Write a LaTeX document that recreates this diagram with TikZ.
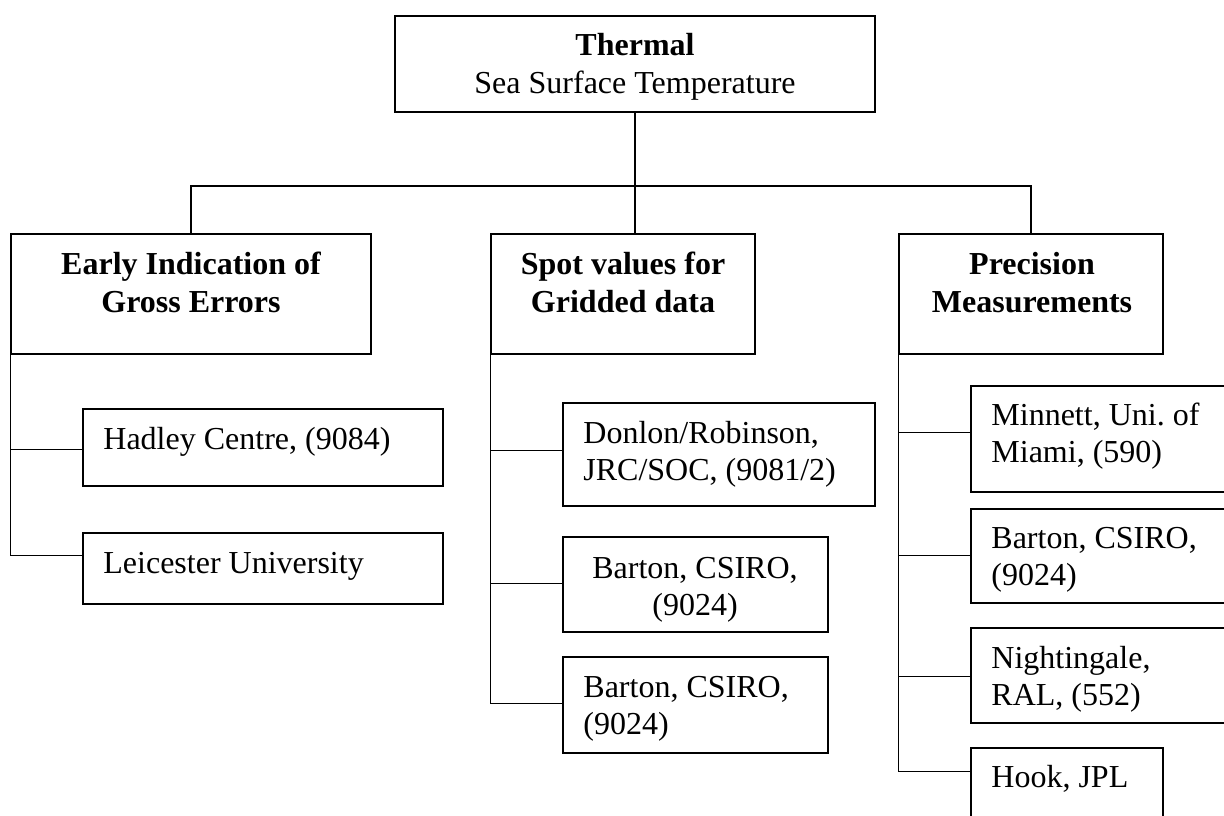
\documentclass[tikz,border=0pt]{standalone}
\usepackage{fontspec}
\setmainfont{Liberation Serif}
\usetikzlibrary{fit,calc}
\frenchspacing
\begin{document}
\begin{tikzpicture}[x=0.5pt,y=-0.5pt,
  box/.style={draw, line width=0.7pt, inner sep=0pt, rectangle},
  txt/.style={inner sep=0pt, font=\fontsize{16}{18}\selectfont},
  bt/.style={inner sep=0pt, font=\fontsize{16}{18}\selectfont\bfseries},
  conn/.style={line width=0.75pt}]
\path[use as bounding box] (0,0) rectangle (1224,815);
\clip (0,0) rectangle (1224,815);
% top
\node[box, fit={(395,16) (875,112)}] (top) {};
\node[bt, anchor=base] (topA) at (635,55) {Thermal};
\node[txt, anchor=base] (topB) at (635,93) {Sea Surface Temperature};
% headers
\node[box, fit={(11,234) (371,354)}] (L) {};
\node[bt, anchor=base] (LA) at (191,274) {Early Indication of};
\node[bt, anchor=base] (LB) at (191,312) {Gross Errors};
\node[box, fit={(491,234) (755,354)}] (M) {};
\node[bt, anchor=base] (MA) at (623,274) {Spot values for};
\node[bt, anchor=base] (MB) at (623,312) {Gridded data};
\node[box, fit={(899,234) (1163,354)}] (R) {};
\node[bt, anchor=base] (RA) at (1032,274) {Precision};
\node[bt, anchor=base] (RB) at (1032,312) {Measurements};
% left children
\node[box, fit={(83,409) (443,486)}] (had) {};
\node[txt, anchor=base west] (hadA) at (103,449) {Hadley Centre, (9084)};
\node[box, fit={(83,533) (443,604)}] (lei) {};
\node[txt, anchor=base west] (leiA) at (103,573) {Leicester University};
% middle children
\node[box, fit={(563,403) (875,506)}] (don) {};
\node[txt, anchor=base west] (donA) at (583,443) {Donlon/Robinson,};
\node[txt, anchor=base west] (donB) at (583,480) {JRC/SOC, (9081/2)};
\node[box, fit={(563,537) (828,632)}] (bm1) {};
\node[txt, anchor=base] (bm1A) at (695,578) {Barton, CSIRO,};
\node[txt, anchor=base] (bm1B) at (695,615) {(9024)};
\node[box, fit={(563,657) (828,753)}] (bm2) {};
\node[txt, anchor=base west] (bm2A) at (583,697) {Barton, CSIRO,};
\node[txt, anchor=base west] (bm2B) at (583,734) {(9024)};
% right children
\node[box, fit={(971,386) (1240,492)}] (min) {};
\node[txt, anchor=base west] (minA) at (991,425) {Minnett, Uni. of};
\node[txt, anchor=base west] (minB) at (991,462) {Miami, (590)};
\node[box, fit={(971,509) (1240,603)}] (br) {};
\node[txt, anchor=base west] (brA) at (991,548) {Barton, CSIRO,};
\node[txt, anchor=base west] (brB) at (991,585) {(9024)};
\node[box, fit={(971,628) (1240,723)}] (nig) {};
\node[txt, anchor=base west] (nigA) at (991,668) {Nightingale,};
\node[txt, anchor=base west] (nigB) at (991,705) {RAL, (552)};
\node[box, fit={(971,748) (1163,840)}] (hook) {};
\node[txt, anchor=base west] (hookA) at (991,787) {Hook, JPL};
% connectors level 1
\coordinate (bar) at (0,186);
\draw[conn] (top.south) -- (top.south |- bar);
\draw[conn] (L.north) -- (L.north |- bar) -| (R.north);
\draw[conn] (M.north -| top.south) -- (top.south |- bar);
% left tree
\draw[conn] (L.south west) |- ($(had.north west)+(0,41)$);
\draw[conn] (L.south west) |- ($(lei.north west)+(0,23)$);
% middle tree
\draw[conn] (M.south west) |- ($(don.north west)+(0,48)$);
\draw[conn] (M.south west) |- ($(bm1.north west)+(0,47)$);
\draw[conn] (M.south west) |- ($(bm2.north west)+(0,47)$);
% right tree
\draw[conn] (R.south west) |- ($(min.north west)+(0,47)$);
\draw[conn] (R.south west) |- ($(br.north west)+(0,47)$);
\draw[conn] (R.south west) |- ($(nig.north west)+(0,49)$);
\draw[conn] (R.south west) |- ($(hook.north west)+(0,24)$);
\end{tikzpicture}
\end{document}
